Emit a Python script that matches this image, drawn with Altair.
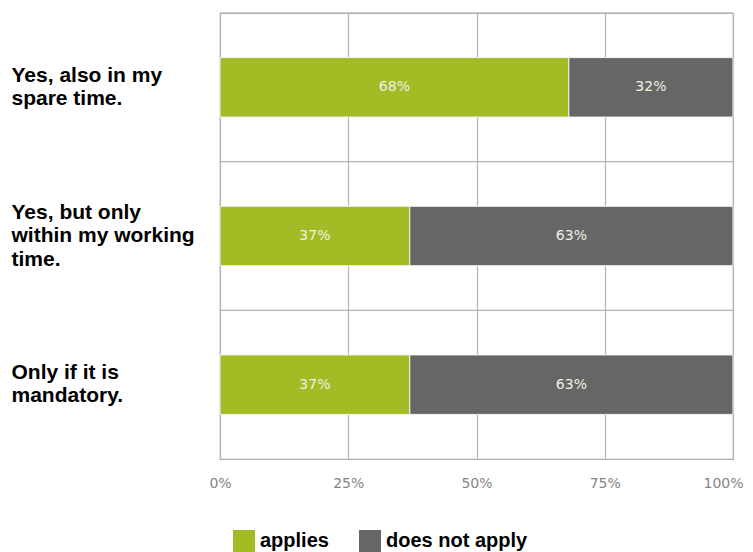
import altair as alt
import pandas as pd

categories = ["Yes, also in my|spare time.",
              "Yes, but only|within my working|time.",
              "Only if it is|mandatory."]
applies = [68, 37, 37]
not_apply = [32, 63, 63]
series = ["applies", "does not apply"]
colors = ["#A3BC26", "#666666"]
x_ticks = [0, 25, 50, 75, 100]

rows = []
for c, a, n in zip(categories, applies, not_apply):
    start = 0
    for s, v in zip(series, [a, n]):
        rows.append({"cat": c, "series": s, "value": v,
                     "start": start, "end": start + v,
                     "mid": start + v / 2, "label": f"{v}%"})
        start += v
df = pd.DataFrame(rows)
cats_df = pd.DataFrame({"cat": categories})

line_h = 23.5
yaxis = alt.Axis(title=None, labelExpr="split(datum.label, '|')",
                 labelAlign="left", labelBaseline="middle",
                 labelPadding=209, labelFont="Liberation Sans",
                 labelFontWeight="bold", labelFontSize=21,
                 labelLineHeight=line_h, labelColor="#000000",
                 labelOffset={"condition": {"test": "length(split(datum.label, '|')) == 3",
                                            "value": -line_h},
                              "value": -line_h / 2},
                 ticks=False, domain=False, grid=False, labelLimit=300)
yscale = alt.Scale(paddingInner=0, paddingOuter=0)
xscale = alt.Scale(domain=[0, 100], nice=False)
xaxis = alt.Axis(title=None, values=x_ticks, labelExpr="datum.value + '%'",
                 labelFont="DejaVu Sans", labelFontSize=14, labelColor="#858585",
                 labelPadding=17, labelFlush=False,
                 labelAlign={"condition": {"test": "datum.value == 100", "value": "right"},
                             "value": "center"},
                 labelOffset={"condition": {"test": "datum.value == 100", "value": 10},
                              "value": 0},
                 ticks=False, domain=False, grid=True,
                 gridColor="#b4b4b4", gridWidth=1.2)

rules = alt.Chart(cats_df).mark_rule(color="#b4b4b4", strokeWidth=1.2).encode(
    y=alt.Y("cat:N", sort=categories, bandPosition=0, scale=yscale, axis=yaxis)
)

bars = alt.Chart(df).mark_bar(height={"band": 0.4}, stroke="#f4f4f4", strokeWidth=1).encode(
    y=alt.Y("cat:N", sort=categories, scale=yscale, axis=yaxis),
    x=alt.X("start:Q", scale=xscale, axis=xaxis),
    x2="end:Q",
    color=alt.Color("series:N", scale=alt.Scale(domain=series, range=colors),
                    legend=alt.Legend(title=None, orient="none", legendX=13, legendY=517,
                                      direction="horizontal", symbolType="square",
                                      symbolSize=484, symbolStrokeWidth=0,
                                      labelFont="Liberation Sans", labelFontWeight="bold",
                                      labelFontSize=20, labelColor="#000000",
                                      columnPadding=30, labelOffset=5)),
)

texts = alt.Chart(df).mark_text(font="DejaVu Sans", fontSize=14, color="#eef2e0").encode(
    y=alt.Y("cat:N", sort=categories, scale=yscale, axis=yaxis),
    x=alt.X("mid:Q", scale=xscale, axis=xaxis),
    text="label:N",
)

chart = alt.layer(rules, bars, texts).properties(
    width=513, height=446,
    padding={"left": 3, "top": 4, "right": 0, "bottom": 0},
).configure_view(stroke="#aaaaaa", strokeWidth=1.2)

chart.save("out.html", embed_options={"renderer": "svg", "actions": False})
